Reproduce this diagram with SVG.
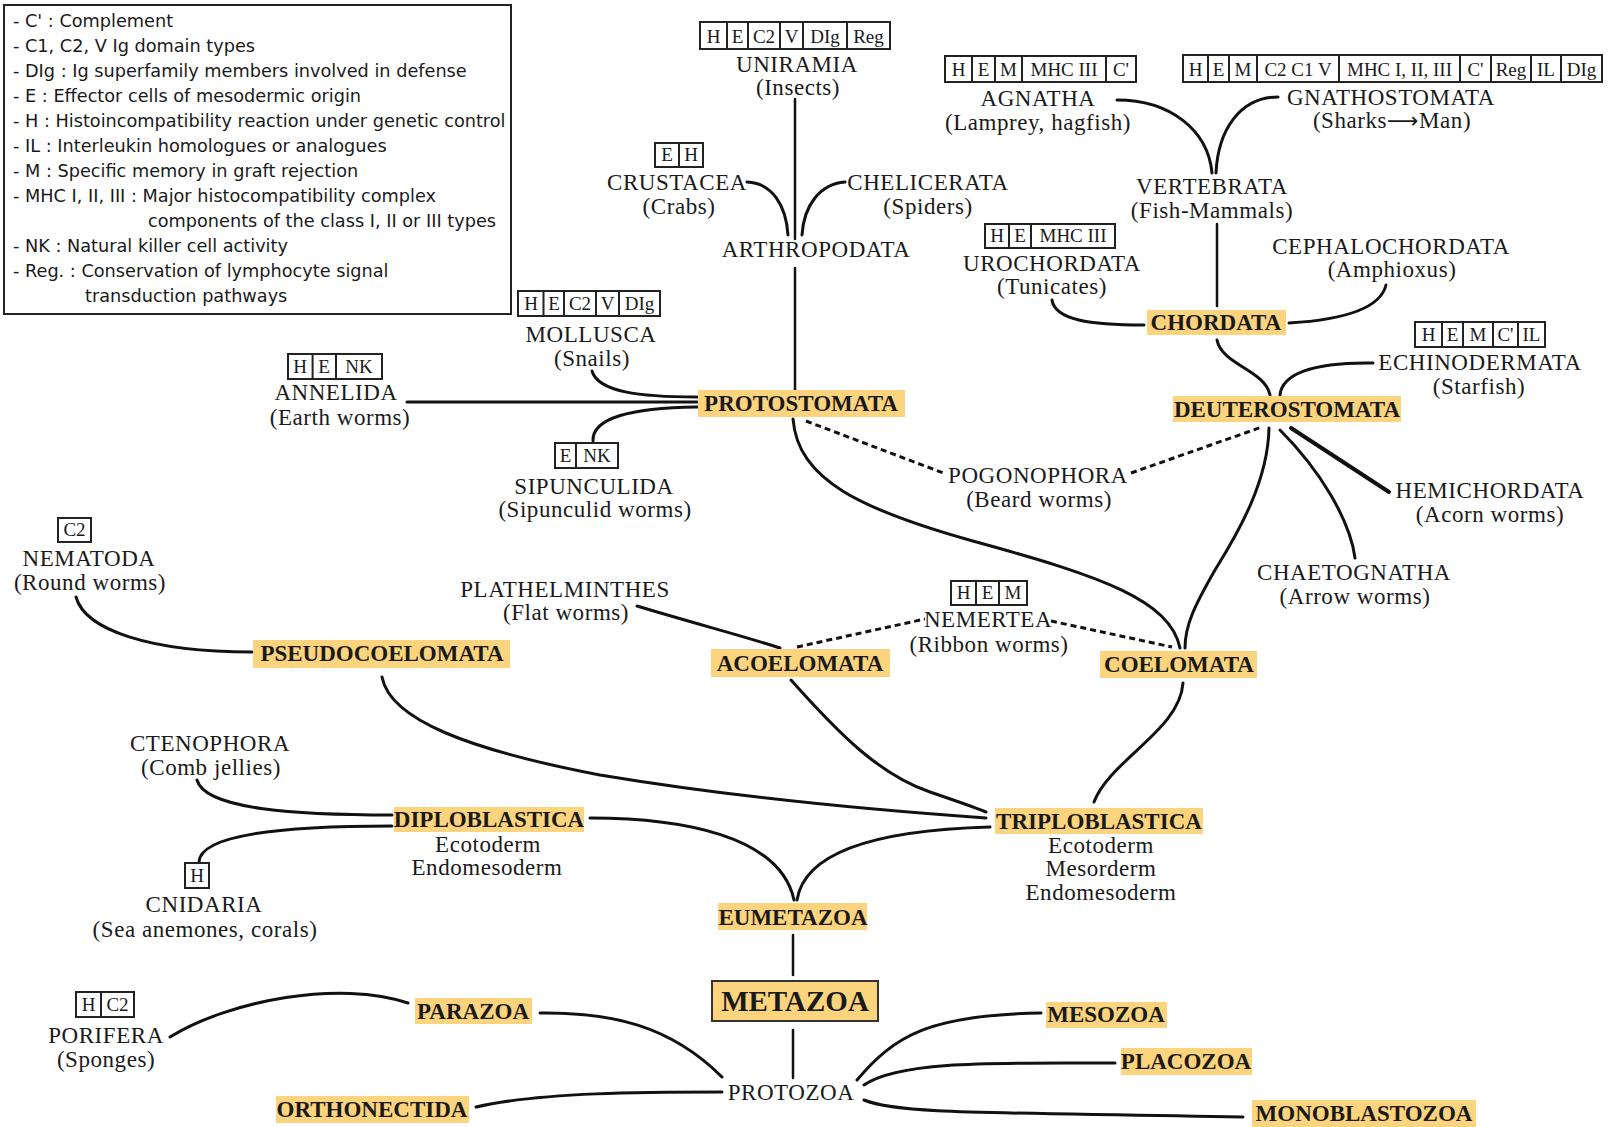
<svg xmlns="http://www.w3.org/2000/svg" width="1609" height="1127" viewBox="0 0 1609 1127">
<style>
.t{font-family:"Liberation Serif","Times New Roman",serif;font-size:23px;letter-spacing:0.55px;text-anchor:middle;fill:#1a1a1a}
.b{font-weight:bold;letter-spacing:0px}
.big{font-size:29px}
.c{font-family:"Liberation Serif","Times New Roman",serif;font-size:19px;text-anchor:middle;fill:#1a1a1a}
.lg{font-family:"DejaVu Sans","Liberation Sans",Arial,sans-serif;font-size:17.7px;fill:#1a1a1a}
.hl{fill:#fcd47e}
.box{fill:#fff;stroke:#222;stroke-width:2}
.div{stroke:#222;stroke-width:2}
.ln{fill:none;stroke:#111;stroke-width:3;stroke-linecap:round}
.th{stroke-width:2.5}
.dt{fill:none;stroke:#111;stroke-width:3;stroke-dasharray:6 4}
</style>

<g id="legend">
<rect x="4" y="5" width="507" height="309" fill="#fff" stroke="#222" stroke-width="2"/>
<text class="lg" x="13" y="27">- C' : Complement</text>
<text class="lg" x="13" y="52">- C1, C2, V Ig domain types</text>
<text class="lg" x="13" y="77">- DIg : Ig superfamily members involved in defense</text>
<text class="lg" x="13" y="102">- E : Effector cells of mesodermic origin</text>
<text class="lg" x="13" y="127">- H : Histoincompatibility reaction under genetic control</text>
<text class="lg" x="13" y="152">- IL : Interleukin homologues or analogues</text>
<text class="lg" x="13" y="177">- M : Specific memory in graft rejection</text>
<text class="lg" x="13" y="202">- MHC I, II, III : Major histocompatibility complex</text>
<text class="lg" x="148" y="227">components of the class I, II or III types</text>
<text class="lg" x="13" y="252">- NK : Natural killer cell activity</text>
<text class="lg" x="13" y="277">- Reg. : Conservation of lymphocyte signal</text>
<text class="lg" x="85" y="302">transduction pathways</text>
</g>

<g id="connectors">
<path class="ln th" d="M795 99V239M795 268V390"/>
<path class="ln" d="M747 182C772 183 786 205 788 235"/>
<path class="ln" d="M845 182C820 184 804 205 802 235"/>
<path class="ln" d="M592 371C598 392 640 397 697 397"/>
<path class="ln" d="M407 402H697"/>
<path class="ln" d="M593 441C592 418 630 408 697 407"/>
<path class="ln" d="M793 419C798 480 860 510 980 543C1100 576 1170 600 1180 648"/>
<path class="dt" d="M806 421L946 474"/>
<path class="dt" d="M1131 473L1262 427"/>
<path class="ln" d="M1117 100C1170 100 1208 130 1212 173"/>
<path class="ln" d="M1278 97C1240 97 1218 130 1216 173"/>
<path class="ln th" d="M1217 224V306"/>
<path class="ln" d="M1052 300C1055 320 1090 325 1144 325"/>
<path class="ln" d="M1289 323C1340 320 1380 310 1386 285"/>
<path class="ln" d="M1217 340C1222 365 1265 370 1270 395"/>
<path class="ln" d="M1373 363C1310 362 1282 375 1280 395"/>
<path class="ln" d="M1269 428C1268 480 1240 530 1215 570C1195 605 1185 625 1185 648"/>
<path class="ln" d="M1280 430C1320 470 1350 520 1355 558"/>
<path class="ln" style="stroke-width:4" d="M1291 428L1389 492"/>
<path class="ln" d="M76 597C85 630 150 652 252 652"/>
<path class="ln" d="M637 606C700 625 740 635 780 648"/>
<path class="dt" d="M797 647L925 619"/>
<path class="dt" d="M1051 621L1172 647"/>
<path class="ln" d="M382 677C390 720 470 750 600 775C750 800 900 812 986 818"/>
<path class="ln" d="M791 680C840 735 880 775 930 792S975 808 986 812"/>
<path class="ln" d="M1183 683C1180 730 1110 760 1094 802"/>
<path class="ln" d="M197 780C205 810 300 815 392 815"/>
<path class="ln" d="M199 862C200 835 280 826 392 826"/>
<path class="ln" d="M590 818C680 818 780 835 794 900"/>
<path class="ln" d="M990 827C880 830 805 850 797 900"/>
<path class="ln th" d="M793 935V975M793 1030V1078"/>
<path class="ln" d="M170 1037C230 1000 340 980 408 1003"/>
<path class="ln" d="M540 1013C610 1012 670 1025 722 1077"/>
<path class="ln" d="M476 1107C540 1092 650 1092 722 1092"/>
<path class="ln" d="M857 1080C895 1035 930 1015 1041 1013"/>
<path class="ln" d="M864 1085C900 1060 1000 1063 1115 1063"/>
<path class="ln" d="M864 1100C900 1115 1000 1112 1243 1117"/>
</g>

<g id="uniramia">
<rect class="box" x="700" y="22" width="190" height="27"/>
<path class="div" d="M727 22V49M748 22V49M780 22V49M803 22V49M847 22V49"/>
<text class="c" x="713.5" y="43">H</text><text class="c" x="737.5" y="43">E</text><text class="c" x="764" y="43">C2</text><text class="c" x="791.5" y="43">V</text><text class="c" x="825" y="43">DIg</text><text class="c" x="868.5" y="43">Reg</text>
<text class="t" x="797" y="72">UNIRAMIA</text>
<text class="t" x="798" y="95">(Insects)</text>
</g>

<g id="crustacea">
<rect class="box" x="655" y="143" width="48" height="24"/>
<path class="div" d="M679 143V167"/>
<text class="c" x="667" y="161">E</text><text class="c" x="691" y="161">H</text>
<text class="t" x="677" y="190">CRUSTACEA</text>
<text class="t" x="679" y="214">(Crabs)</text>
</g>

<g id="chelicerata">
<text class="t" x="928" y="190">CHELICERATA</text>
<text class="t" x="928" y="214">(Spiders)</text>
</g>

<g id="arthropodata">
<text class="t" x="816" y="257">ARTHROPODATA</text>
</g>

<g id="mollusca">
<rect class="box" x="518" y="291" width="142" height="25"/>
<path class="div" d="M543.5 291V316M564 291V316M596 291V316M619 291V316"/>
<text class="c" x="531" y="310">H</text><text class="c" x="554" y="310">E</text><text class="c" x="580" y="310">C2</text><text class="c" x="607.5" y="310">V</text><text class="c" x="639.5" y="310">DIg</text>
<text class="t" x="591" y="342">MOLLUSCA</text>
<text class="t" x="592" y="366">(Snails)</text>
</g>

<g id="annelida">
<rect class="box" x="288" y="354" width="94" height="25"/>
<path class="div" d="M312.6 354V379M336 354V379"/>
<text class="c" x="300" y="373">H</text><text class="c" x="324" y="373">E</text><text class="c" x="359" y="373">NK</text>
<text class="t" x="336" y="400">ANNELIDA</text>
<text class="t" x="340" y="425">(Earth worms)</text>
</g>

<g id="sipunculida">
<rect class="box" x="555" y="443" width="63" height="25"/>
<path class="div" d="M576 443V468"/>
<text class="c" x="565.5" y="462">E</text><text class="c" x="597" y="462">NK</text>
<text class="t" x="594" y="494">SIPUNCULIDA</text>
<text class="t" x="595" y="517">(Sipunculid worms)</text>
</g>

<g id="protostomata">
<rect class="hl" x="698" y="390" width="207" height="27"/>
<text class="t b" x="801" y="411">PROTOSTOMATA</text>
</g>

<g id="agnatha">
<rect class="box" x="945" y="56" width="191" height="26"/>
<path class="div" d="M972 56V82M995 56V82M1022 56V82M1106 56V82"/>
<text class="c" x="958.5" y="76">H</text><text class="c" x="983.5" y="76">E</text><text class="c" x="1008.5" y="76">M</text><text class="c" x="1064" y="76">MHC III</text><text class="c" x="1121" y="76">C'</text>
<text class="t" x="1038" y="106">AGNATHA</text>
<text class="t" x="1038" y="130">(Lamprey, hagfish)</text>
</g>

<g id="gnathostomata">
<rect class="box" x="1183" y="55" width="419" height="27"/>
<path class="div" d="M1208 55V82M1229 55V82M1257 55V82M1339 55V82M1460 55V82M1491 55V82M1531 55V82M1561 55V82"/>
<text class="c" x="1195.5" y="76">H</text><text class="c" x="1218.5" y="76">E</text><text class="c" x="1243" y="76">M</text><text class="c" x="1298" y="76">C2 C1 V</text><text class="c" x="1399.5" y="76">MHC I, II, III</text><text class="c" x="1475.5" y="76">C'</text><text class="c" x="1511" y="76">Reg</text><text class="c" x="1546" y="76">IL</text><text class="c" x="1581.5" y="76">DIg</text>
<text class="t" x="1391" y="105">GNATHOSTOMATA</text>
<text class="t" x="1392" y="128">(Sharks<tspan font-family="DejaVu Sans" font-size="22">⟶</tspan>Man)</text>
</g>

<g id="vertebrata">
<text class="t" x="1212" y="194">VERTEBRATA</text>
<text class="t" x="1212" y="218">(Fish-Mammals)</text>
</g>

<g id="urochordata">
<rect class="box" x="985" y="224" width="130" height="24"/>
<path class="div" d="M1009 224V248M1031 224V248"/>
<text class="c" x="997" y="242">H</text><text class="c" x="1020" y="242">E</text><text class="c" x="1073" y="242">MHC III</text>
<text class="t" x="1052" y="271">UROCHORDATA</text>
<text class="t" x="1052" y="294">(Tunicates)</text>
</g>

<g id="cephalochordata">
<text class="t" x="1391" y="254">CEPHALOCHORDATA</text>
<text class="t" x="1392" y="277">(Amphioxus)</text>
</g>

<g id="chordata">
<rect class="hl" x="1147" y="310" width="139" height="25"/>
<text class="t b" x="1216" y="330">CHORDATA</text>
</g>

<g id="echinodermata">
<rect class="box" x="1415" y="322" width="130" height="25"/>
<path class="div" d="M1442 322V347M1463 322V347M1493 322V347M1518 322V347"/>
<text class="c" x="1428.5" y="341">H</text><text class="c" x="1452.5" y="341">E</text><text class="c" x="1478" y="341">M</text><text class="c" x="1505.5" y="341">C'</text><text class="c" x="1531.5" y="341">IL</text>
<text class="t" x="1480" y="370">ECHINODERMATA</text>
<text class="t" x="1479" y="394">(Starfish)</text>
</g>

<g id="deuterostomata">
<rect class="hl" x="1173" y="396" width="228" height="26"/>
<text class="t b" x="1287" y="417">DEUTEROSTOMATA</text>
</g>

<g id="pogonophora">
<text class="t" x="1038" y="483">POGONOPHORA</text>
<text class="t" x="1039" y="507">(Beard worms)</text>
</g>

<g id="hemichordata">
<text class="t" x="1490" y="498">HEMICHORDATA</text>
<text class="t" x="1490" y="522">(Acorn worms)</text>
</g>

<g id="chaetognatha">
<text class="t" x="1354" y="580">CHAETOGNATHA</text>
<text class="t" x="1355" y="604">(Arrow worms)</text>
</g>

<g id="nematoda">
<rect class="box" x="58" y="518" width="33" height="24"/>
<text class="c" x="74.5" y="536">C2</text>
<text class="t" x="89" y="566">NEMATODA</text>
<text class="t" x="90" y="590">(Round worms)</text>
</g>

<g id="pseudocoelomata">
<rect class="hl" x="253" y="640" width="257" height="28"/>
<text class="t b" x="382" y="661">PSEUDOCOELOMATA</text>
</g>

<g id="plathelminthes">
<text class="t" x="565" y="597">PLATHELMINTHES</text>
<text class="t" x="566" y="620">(Flat worms)</text>
</g>

<g id="nemertea">
<rect class="box" x="951" y="581" width="76" height="24"/>
<path class="div" d="M976 581V605M999 581V605"/>
<text class="c" x="963.5" y="599">H</text><text class="c" x="987.5" y="599">E</text><text class="c" x="1013" y="599">M</text>
<text class="t" x="988" y="627">NEMERTEA</text>
<text class="t" x="989" y="652">(Ribbon worms)</text>
</g>

<g id="acoelomata">
<rect class="hl" x="711" y="649" width="179" height="28"/>
<text class="t b" x="800" y="671">ACOELOMATA</text>
</g>

<g id="coelomata">
<rect class="hl" x="1100" y="651" width="157" height="27"/>
<text class="t b" x="1179" y="672">COELOMATA</text>
</g>

<g id="ctenophora">
<text class="t" x="210" y="751">CTENOPHORA</text>
<text class="t" x="211" y="775">(Comb jellies)</text>
</g>

<g id="diploblastica">
<rect class="hl" x="394" y="807" width="190" height="25"/>
<text class="t b" x="489" y="827">DIPLOBLASTICA</text>
<text class="t" x="488" y="852">Ecotoderm</text>
<text class="t" x="487" y="875">Endomesoderm</text>
</g>

<g id="cnidaria">
<rect class="box" x="185" y="863" width="24" height="25"/>
<text class="c" x="197" y="882">H</text>
<text class="t" x="204" y="912">CNIDARIA</text>
<text class="t" x="205" y="937">(Sea anemones, corals)</text>
</g>

<g id="triploblastica">
<rect class="hl" x="995" y="808" width="208" height="26"/>
<text class="t b" x="1099" y="829">TRIPLOBLASTICA</text>
<text class="t" x="1101" y="853">Ecotoderm</text>
<text class="t" x="1101" y="876">Mesorderm</text>
<text class="t" x="1101" y="900">Endomesoderm</text>
</g>

<g id="eumetazoa">
<rect class="hl" x="718" y="903" width="149" height="27"/>
<text class="t b" x="793" y="925">EUMETAZOA</text>
</g>

<g id="metazoa">
<rect class="hl" x="712" y="981" width="166" height="40" stroke="#333" stroke-width="2"/>
<text class="t b big" x="795" y="1011">METAZOA</text>
</g>

<g id="protozoa">
<text class="t" x="791" y="1100">PROTOZOA</text>
</g>

<g id="porifera">
<rect class="box" x="76" y="992" width="58" height="25"/>
<path class="div" d="M101 992V1017"/>
<text class="c" x="88.5" y="1011">H</text><text class="c" x="117.5" y="1011">C2</text>
<text class="t" x="106" y="1043">PORIFERA</text>
<text class="t" x="106" y="1067">(Sponges)</text>
</g>

<g id="parazoa">
<rect class="hl" x="415" y="998" width="117" height="26"/>
<text class="t b" x="473" y="1019">PARAZOA</text>
</g>

<g id="orthonectida">
<rect class="hl" x="276" y="1096" width="193" height="27"/>
<text class="t b" x="372" y="1117">ORTHONECTIDA</text>
</g>

<g id="mesozoa">
<rect class="hl" x="1046" y="1002" width="121" height="26"/>
<text class="t b" x="1106" y="1022">MESOZOA</text>
</g>

<g id="placozoa">
<rect class="hl" x="1121" y="1048" width="131" height="27"/>
<text class="t b" x="1186" y="1069">PLACOZOA</text>
</g>

<g id="monoblastozoa">
<rect class="hl" x="1252" y="1100" width="224" height="27"/>
<text class="t b" x="1364" y="1121">MONOBLASTOZOA</text>
</g>
</svg>
